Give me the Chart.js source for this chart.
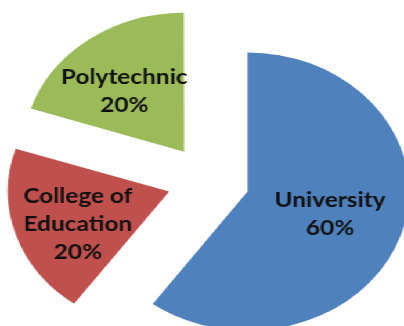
<!DOCTYPE html>
<html>
<head>
<meta charset="utf-8">
<script src="https://cdn.jsdelivr.net/npm/chart.js@4.4.0/dist/chart.umd.min.js"></script>
<style>
  html, body { margin: 0; padding: 0; background: #fff; overflow: hidden; }
  /* a imagem original esta esticada na horizontal */
  #wrap { position: relative; width: 348px; height: 326px; transform: scaleX(1.1609); transform-origin: 0 0; }
  #wrap canvas { position: absolute; left: 0; top: 0; }
</style>
</head>
<body>
<div id="wrap">
  <canvas id="pizzaAzul" width="348" height="326"></canvas>
  <canvas id="pizzaResto" width="348" height="326"></canvas>
</div>
<script>
// Dados
var categorias = ["University", ["College of", "Education"], "Polytechnic"];
var valores = [60, 20, 20];

// Estilo
var cores = ["#4F81BD", "#C0504D", "#9BBB59"];
var raio = 139;
var explosao = 142; // chart.js desloca offset/4
var padBase = { left: 11, right: 0, top: 35, bottom: 0 };
var distRotulo = [0.53, 0.61, 0.57];
var ajusteX = [1, 2, -5];
var ajusteY = [0, 7, 4];
var alturaLinha = 28;

var total = valores.reduce(function (a, b) { return a + b; }, 0);

var rotulosPlugin = {
  id: "rotulos",
  afterDatasetsDraw: function (chart, args, opts) {
    var ctx = chart.ctx;
    var meta = chart.getDatasetMeta(0);
    ctx.save();
    ctx.font = "bold 21px Lato";
    ctx.fillStyle = "#111";
    ctx.textAlign = "center";
    ctx.textBaseline = "middle";
    opts.mostrar.forEach(function (i) {
      var arc = meta.data[i];
      var meio = (arc.startAngle + arc.endAngle) / 2;
      var desloc = (arc.options.offset || 0) / 4 + distRotulo[i] * raio;
      var x = arc.x + Math.cos(meio) * desloc + ajusteX[i];
      var y = arc.y + Math.sin(meio) * desloc + ajusteY[i];
      var linhas = [].concat(categorias[i], Math.round(valores[i] / total * 100) + "%");
      var topo = y - (linhas.length - 1) * alturaLinha / 2;
      linhas.forEach(function (l, k) {
        ctx.fillText(l, x, topo + k * alturaLinha);
      });
    });
    ctx.restore();
  }
};

function criarPizza(id, visiveis, raioOpcao, offset, padding) {
  return new Chart(document.getElementById(id), {
    type: "pie",
    data: {
      labels: categorias,
      datasets: [{
        data: valores,
        backgroundColor: cores.map(function (c, i) {
          return visiveis.indexOf(i) >= 0 ? c : "rgba(0,0,0,0)";
        }),
        borderWidth: 0,
        offset: offset,
        hoverOffset: 0,
        clip: false
      }]
    },
    options: {
      responsive: false,
      animation: false,
      events: [],
      radius: raioOpcao,
      layout: { padding: padding },
      plugins: {
        legend: { display: false },
        tooltip: { enabled: false },
        rotulos: { mostrar: visiveis }
      }
    },
    plugins: [rotulosPlugin]
  });
}

// fatias com mais de 180 graus crescem e encolhem no chart.js com offset,
// entao a fatia azul e deslocada movendo o centro do seu grafico
var meioAzul = (valores[0] / total) * Math.PI - Math.PI / 2;
var dx = Math.cos(meioAzul) * explosao / 4;
var dy = Math.sin(meioAzul) * explosao / 4;
criarPizza("pizzaAzul", [0], raio, 0, {
  left: padBase.left + 2 * dx, right: padBase.right,
  top: padBase.top + 2 * dy, bottom: padBase.bottom
});
criarPizza("pizzaResto", [1, 2], raio - (explosao / 4) * (1 - Math.sin(Math.PI * 0.4)), explosao, padBase);
</script>
</body>
</html>
